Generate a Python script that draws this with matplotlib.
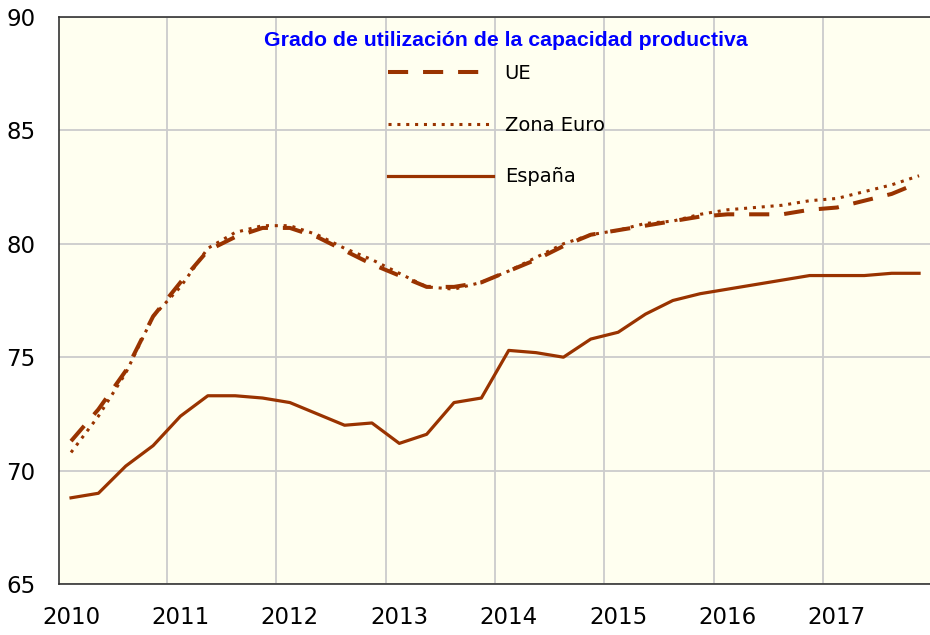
import matplotlib
matplotlib.use('Agg')
import matplotlib.pyplot as plt
import numpy as np

# Datos trimestrales 2010T1 - 2017T4
years = ['2010', '2011', '2012', '2013', '2014', '2015', '2016', '2017']
ue = [71.3, 72.7, 74.4, 76.8, 78.3, 79.7, 80.3, 80.7,
      80.7, 80.3, 79.7, 79.1, 78.6, 78.1, 78.1, 78.3,
      78.8, 79.3, 79.9, 80.4, 80.6, 80.8, 81.0, 81.2,
      81.3, 81.3, 81.3, 81.5, 81.6, 81.9, 82.2, 82.7]
zona_euro = [70.8, 72.4, 74.3, 76.8, 78.1, 79.8, 80.5, 80.8,
             80.8, 80.4, 79.8, 79.3, 78.7, 78.1, 78.0, 78.3,
             78.8, 79.4, 80.0, 80.4, 80.6, 80.9, 81.0, 81.3,
             81.5, 81.6, 81.7, 81.9, 82.0, 82.3, 82.6, 83.0]
espana = [68.8, 69.0, 70.2, 71.1, 72.4, 73.3, 73.3, 73.2,
          73.0, 72.5, 72.0, 72.1, 71.2, 71.6, 73.0, 73.2,
          75.3, 75.2, 75.0, 75.8, 76.1, 76.9, 77.5, 77.8,
          78.0, 78.2, 78.4, 78.6, 78.6, 78.6, 78.7, 78.7]

x = np.arange(len(espana))
color = '#993300'

fig = plt.figure(figsize=(9.3, 6.35), dpi=100)
ax = fig.add_axes([59 / 930, 51 / 635, 871 / 930, 567 / 635])
ax.set_facecolor('#FFFFF0')

ax.plot(x, ue, color=color, lw=2.9, linestyle=(0, (5, 3.7)), label='UE')
ax.plot(x, zona_euro, color=color, lw=2.2, linestyle=(0, (1, 1.9)), label='Zona Euro')
ax.plot(x, espana, color=color, lw=2.3, solid_joinstyle='round', label='España')

ax.set_xlim(-0.44, 31.4)
ax.set_ylim(65, 90)
ax.set_yticks([65, 70, 75, 80, 85, 90])
ax.set_xticks(np.arange(0, 32, 4))
ax.set_xticklabels(years)
ax.set_xticks(np.arange(3.5, 31, 4), minor=True)

ax.grid(False)
ax.grid(True, axis='y', which='major', color='#CCCCCC', lw=1.3)
ax.grid(True, axis='x', which='minor', color='#CCCCCC', lw=1.3)
ax.set_axisbelow(True)

ax.tick_params(axis='both', which='both', length=0, labelsize=16.5)
ax.tick_params(axis='y', pad=17)
ax.tick_params(axis='x', pad=15.5)

for s in ['left', 'top', 'bottom']:
    ax.spines[s].set_color('#333333')
    ax.spines[s].set_linewidth(1.2)
ax.spines['right'].set_visible(False)

ax.text(0.513, 0.959, 'Grado de utilización de la capacidad productiva',
        transform=ax.transAxes, ha='center', va='center',
        fontsize=15.3, fontweight='bold', color='#0000FF',
        family='Liberation Sans')

ax.legend(loc='upper left', bbox_to_anchor=(388 / 930, 1 - 64 / 635),
          bbox_transform=fig.transFigure, frameon=False, fontsize=14,
          handlelength=5.4, handletextpad=0.6, labelspacing=1.68,
          borderpad=0, borderaxespad=0)

fig.savefig('out.png', dpi=100)
